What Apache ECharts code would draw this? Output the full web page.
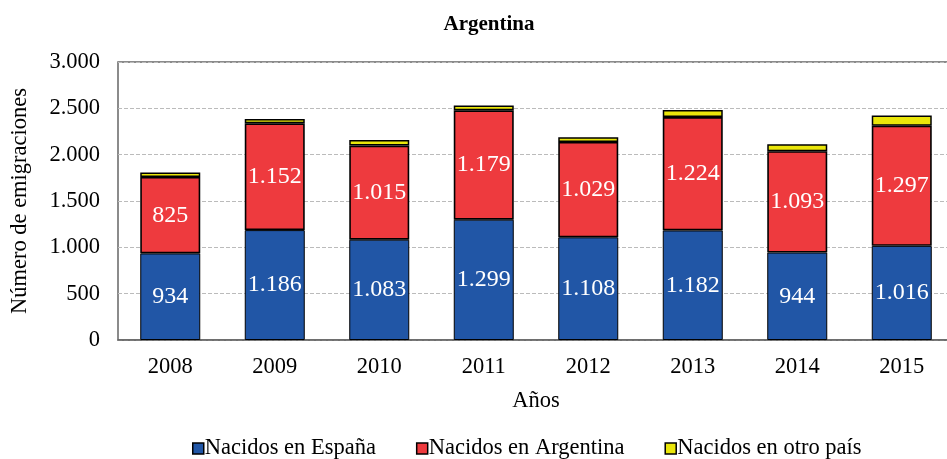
<!DOCTYPE html>
<html><head><meta charset="utf-8">
<script src="https://cdn.jsdelivr.net/npm/echarts@6/dist/echarts.min.js"></script>
<style>html,body{margin:0;padding:0;background:#fff}#c{width:947px;height:459px}</style>
</head><body><div id="c"></div>
<script>
const categories = ['2008','2009','2010','2011','2012','2013','2014','2015'];
const nacidosEspana = [934,1186,1083,1299,1108,1182,944,1016];
const nacidosArgentina = [825,1152,1015,1179,1029,1224,1093,1297];
const nacidosOtro = [48,48,60,52,50,75,75,110];
const seriesNames = ['Nacidos en España','Nacidos en Argentina','Nacidos en otro país'];

const fmt = v => v >= 1000 ? Math.floor(v/1000) + '.' + String(v%1000).padStart(3,'0') : String(v);
const F = 'Liberation Serif';
const chart = echarts.init(document.getElementById('c'));
const mk = (name, data, color, bw, label) => ({
  name, type:'bar', stack:'a', data, barWidth:60,
  itemStyle:{color, borderColor:'#000', borderWidth:bw},
  label:{show:label, position:'inside', color:'#fff', fontFamily:F, fontSize:24, formatter:p=>fmt(p.value)}
});
chart.setOption({
  animation:false,
  title:{text:'Argentina', left:484, top:9, textAlign:'center', textStyle:{fontFamily:F, fontWeight:'bold', fontSize:21, color:'#000'}},
  grid:{left:118, top:62, width:836, height:278, show:true, borderColor:'#666', borderWidth:1.5, containLabel:false, outerBoundsMode:'none'},
  legend:{bottom:-6, left:187, itemGap:40, itemWidth:11, itemHeight:11, icon:'rect',
    textStyle:{fontFamily:F, fontSize:22.5, color:'#000', padding:[0,0,0,-4]},
    itemStyle:{borderColor:'#000', borderWidth:1.5}},
  xAxis:{type:'category', data:categories, name:'Años', nameLocation:'middle', nameGap:50,
    nameTextStyle:{fontFamily:F, fontSize:22.5, color:'#000'},
    axisLine:{lineStyle:{color:'#666', width:1.5}}, axisTick:{show:false},
    axisLabel:{fontFamily:F, fontSize:22.5, color:'#000', margin:16}},
  yAxis:{type:'value', min:0, max:3000, interval:500, name:'Número de emigraciones', nameLocation:'middle', nameGap:86,
    nameTextStyle:{fontFamily:F, fontSize:22.5, color:'#000'},
    axisLine:{show:false}, axisTick:{show:false},
    axisLabel:{fontFamily:F, fontSize:22.5, color:'#000', margin:18, formatter:v=>fmt(v)},
    splitLine:{lineStyle:{color:'#bbb', type:'dashed', width:1}}},
  series:[
    mk(seriesNames[0], nacidosEspana, '#2156A6', 1, true),
    mk(seriesNames[1], nacidosArgentina, '#EE3A3E', 1.6, true),
    mk(seriesNames[2], nacidosOtro, '#EAE60A', 1.5, false)
  ]
});
</script></body></html>
